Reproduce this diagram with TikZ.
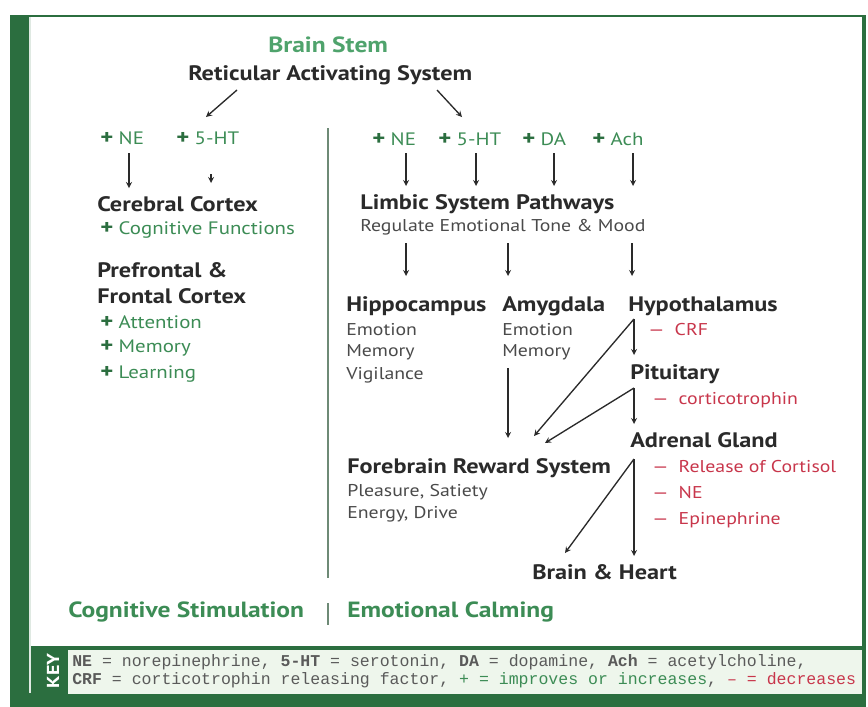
\documentclass[tikz,border=0pt]{standalone}
\usepackage{fontspec}
\setmainfont{PT Sans}[FakeStretch=1.16]
\setmonofont{Liberation Mono}

\definecolor{framegreen}{HTML}{2B6E3F}
\definecolor{leafgreen}{HTML}{3C8C55}
\definecolor{stemgreen}{HTML}{4FA36C}
\definecolor{inkblack}{HTML}{2A2A2A}
\definecolor{alarmred}{HTML}{C8364B}
\definecolor{keypanel}{HTML}{EEF6EC}
\definecolor{keyink}{HTML}{5A5A5A}
\definecolor{rulegrey}{HTML}{6E8A76}

\newcommand{\upmark}{{\bfseries\fontsize{16}{15}\selectfont\color{framegreen}+}\hspace{0.3em}}
\newcommand{\downmark}{\textemdash\hspace{0.6em}}

\begin{document}
\begin{tikzpicture}[x=0.75pt, y=-0.75pt, >=stealth, inner sep=0pt,
  head/.style={anchor=west, text=inkblack, font=\bfseries\fontsize{15.7}{18}\selectfont},
  sub/.style={anchor=west, text=inkblack!85, font=\fontsize{12.8}{14}\selectfont},
  plus/.style={anchor=west, text=leafgreen, font=\fontsize{13.5}{15}\selectfont},
  minus/.style={anchor=west, text=alarmred, font=\fontsize{12.8}{14}\selectfont},
  title/.style={anchor=west, text=leafgreen, font=\bfseries\fontsize{16.5}{18}\selectfont},
  keytext/.style={anchor=west, text=keyink, font=\ttfamily\fontsize{12.4}{14}\selectfont},
  link/.style={->, line width=1pt, draw=inkblack}]
\useasboundingbox (0,0) rectangle (868,707);

% frame and key panel
\fill[framegreen] (10,15) rectangle (866,707);
\fill[white] (30,17) rectangle (862,646);
\fill[keypanel] (68,650) rectangle (862,694);
\fill[white!85!framegreen] (29,17) rectangle (31,693);
\node (key) at (53,671) [rotate=90, text=white, font=\bfseries\fontsize{13}{14}\selectfont] {KEY};

% brain stem
\node (stem) at (268,45) [title, text=stemgreen] {Brain Stem};
\node (ras) at (188,75) [head] {Reticular Activating System};
\coordinate (rasl) at (237,90);
\coordinate (rasr) at (437,90);
\coordinate (cogin) at (206,117);
\coordinate (emoin) at (462,117);
\draw[link] (rasl) -- (cogin);
\draw[link] (rasr) -- (emoin);

% divider
\coordinate (divtop) at (328,128);
\coordinate (divbot) at (328,578);
\coordinate (bartop) at (328,603);
\coordinate (barbot) at (328,625);
\draw[rulegrey, line width=1.2pt] (divtop) -- (divbot);
\draw[rulegrey, line width=1.2pt] (bartop) -- (barbot);

% cognitive side
\node (lne) at (100,138) [plus] {\upmark NE};
\node (l5ht) at (176,138) [plus] {\upmark 5-HT};
\node (cortex) at (97,204) [head] {Cerebral Cortex};
\node (cogfn) at (100,230) [plus] {\upmark Cognitive Functions};
\node (pfc) at (97,270) [head] {Prefrontal \&};
\node (frontal) at (97,296) [head] {Frontal Cortex};
\node (attn) at (100,322) [plus] {\upmark Attention};
\node (memo) at (100,348) [plus] {\upmark Memory};
\node (learn) at (100,374) [plus] {\upmark Learning};
\coordinate (lnea) at (129,153);
\coordinate (lneb) at (129,188);
\coordinate (l5hta) at (211,174);
\coordinate (l5htb) at (211,183);
\draw[link] (lnea) -- (lneb);
\draw[link] (l5hta) -- (l5htb);

% emotional side
\node (rne) at (372,139) [plus] {\upmark NE};
\node (r5ht) at (438,139) [plus] {\upmark 5-HT};
\node (rda) at (522,139) [plus] {\upmark DA};
\node (rach) at (592,139) [plus] {\upmark Ach};
\node (limbic) at (360,204) [head] {Limbic System Pathways};
\node (tone) at (360,227) [sub] {Regulate Emotional Tone \& Mood};
\foreach \n/\x in {ne/406, ht/476, da/554, ach/633} {
  \coordinate (\n a) at (\x,153);
  \coordinate (\n b) at (\x,186);
  \draw[link] (\n a) -- (\n b);
}
\foreach \n/\x in {hip/406, amy/508, hyp/632} {
  \coordinate (\n a) at (\x,243);
  \coordinate (\n b) at (\x,276);
  \draw[link] (\n a) -- (\n b);
}

\node (hippo) at (346,306) [head] {Hippocampus};
\node (hipemo) at (346,330) [sub] {Emotion};
\node (hipmem) at (346,352) [sub] {Memory};
\node (hipvig) at (346,375) [sub] {Vigilance};
\node (amyg) at (502,306) [head] {Amygdala};
\node (amyemo) at (502,330) [sub] {Emotion};
\node (amymem) at (502,352) [sub] {Memory};
\node (hypo) at (628,306) [head] {Hypothalamus};
\node (crf) at (648,330) [minus] {\downmark CRF};
\node (pit) at (630,374) [head] {Pituitary};
\node (cortico) at (652,400) [minus] {\downmark corticotrophin};
\node (adrenal) at (630,440) [head] {Adrenal Gland};
\node (cortisol) at (652,467) [minus] {\downmark Release of Cortisol};
\node (adrne) at (652,493) [minus] {\downmark NE};
\node (epi) at (652,520) [minus] {\downmark Epinephrine};
\node (fore) at (347,468) [head] {Forebrain Reward System};
\node (pleasure) at (347,492) [sub] {Pleasure, Satiety};
\node (energy) at (347,514) [sub] {Energy, Drive};
\node (heart) at (532,572) [head] {Brain \& Heart};

\coordinate (amyout) at (508,368);
\coordinate (forein) at (508,438);
\coordinate (hypout) at (634,319);
\coordinate (pitin) at (634,355);
\coordinate (forehyp) at (534,436);
\coordinate (pitout) at (634,388);
\coordinate (adrin) at (634,424);
\coordinate (forepit) at (545,443);
\coordinate (adrout) at (634,459);
\coordinate (heartr) at (634,556);
\coordinate (heartl) at (565,553);
\draw[link] (amyout) -- (forein);
\draw[link] (hypout) -- (pitin);
\draw[link] (hypout) -- (forehyp);
\draw[link] (pitout) -- (adrin);
\draw[link] (pitout) -- (forepit);
\draw[link] (adrout) -- (heartr);
\draw[link] (adrout) -- (heartl);

% column titles
\node (cogstim) at (68,612) [title] {Cognitive Stimulation};
\node (emocalm) at (347,612) [title] {Emotional Calming};

% key
\node (keyone) at (72,662) [keytext] {\textbf{NE} = norepinephrine, \textbf{5-HT} = serotonin, \textbf{DA} = dopamine, \textbf{Ach} = acetylcholine,};
\node (keytwo) at (72,680) [keytext] {\textbf{CRF} = corticotrophin releasing factor, \textcolor{leafgreen}{+ = improves or increases}, \textcolor{alarmred}{\textendash{} = decreases}};
\end{tikzpicture}
\end{document}
